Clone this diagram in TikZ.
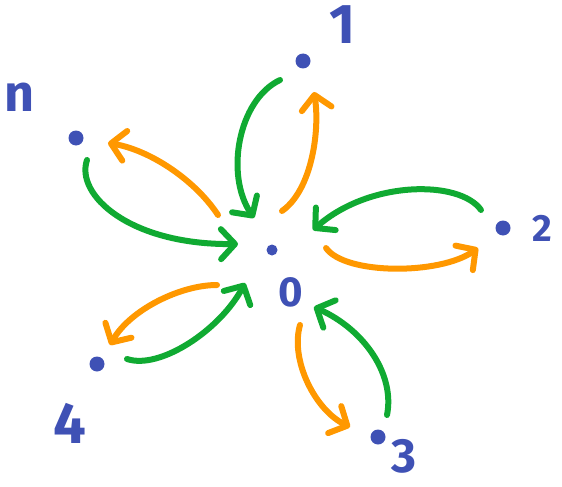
\documentclass[tikz,border=0pt]{standalone}
\usepackage{fontspec}
\setmainfont{Fira Sans}
\usetikzlibrary{arrows.meta}
\definecolor{dotblue}{RGB}{63,81,181}
\definecolor{grn}{RGB}{16,170,50}
\definecolor{org}{RGB}{255,152,0}
\begin{document}
\begin{tikzpicture}[x=1pt,y=-1pt,
  arr/.style={line width=6pt,line cap=round,-{Straight Barb[length=14pt,width=30pt,round]}},
  garr/.style={arr,draw=grn},
  oarr/.style={arr,draw=org},
  pt/.style={circle,fill=dotblue,inner sep=0pt,minimum size=15pt},
  lab/.style={text=dotblue,inner sep=0pt}]
\useasboundingbox (0,0) rectangle (562,487);
% points
\node[pt,minimum size=11pt] (p0) at (272,250) {};
\node[pt] (p1) at (303,61) {};
\node[pt] (p2) at (503,228) {};
\node[pt] (p3) at (378,437) {};
\node[pt] (p4) at (97,364) {};
\node[pt] (pn) at (76,138) {};
% labels
\node[lab,font=\fontsize{42}{42}\selectfont\bfseries] (l0) at (291,292) {0};
\node[lab,font=\fontsize{56}{56}\selectfont\bfseries] (l1) at (342,25) {1};
\node[lab,font=\fontsize{38}{38}\selectfont\bfseries] (l2) at (542,228) {2};
\node[lab,font=\fontsize{48}{48}\selectfont\bfseries] (l3) at (404,456) {3};
\node[lab,font=\fontsize{58}{58}\selectfont\bfseries] (l4) at (70,423) {4};
\node[lab,font=\fontsize{52}{52}\selectfont\bfseries] (ln) at (20,97) {n};
% arrow end points
\coordinate (g1s) at (280,80);  \coordinate (g1e) at (254,218);
\coordinate (o1s) at (282,211); \coordinate (o1e) at (314,92);
\coordinate (g2s) at (481,210); \coordinate (g2e) at (313,230);
\coordinate (o2s) at (326,248); \coordinate (o2e) at (478,248);
\coordinate (g3s) at (387,415); \coordinate (g3e) at (314,307);
\coordinate (o3s) at (300,325); \coordinate (o3e) at (350,427);
\coordinate (o4s) at (217,285); \coordinate (o4e) at (110,345);
\coordinate (g4s) at (127,359); \coordinate (g4e) at (245,283);
\coordinate (ons) at (218,215); \coordinate (one) at (108,143);
\coordinate (gns) at (87,160);  \coordinate (gne) at (238,244);
% arrows
\draw[garr] (g1s) .. controls (238,100) and (225,175) .. (g1e);
\draw[oarr] (o1s) .. controls (312,190) and (320,130) .. (o1e);
\draw[garr] (g2s) .. controls (460,180) and (370,180) .. (g2e);
\draw[oarr] (o2s) .. controls (345,275) and (440,275) .. (o2e);
\draw[garr] (g3s) .. controls (395,375) and (365,330) .. (g3e);
\draw[oarr] (o3s) .. controls (290,360) and (315,410) .. (o3e);
\draw[oarr] (o4s) .. controls (180,285) and (130,310) .. (o4e);
\draw[garr] (g4s) .. controls (160,370) and (220,330) .. (g4e);
\draw[oarr] (ons) .. controls (195,180) and (150,150) .. (one);
\draw[garr] (gns) .. controls (75,195) and (130,245) .. (gne);
\end{tikzpicture}
\end{document}
